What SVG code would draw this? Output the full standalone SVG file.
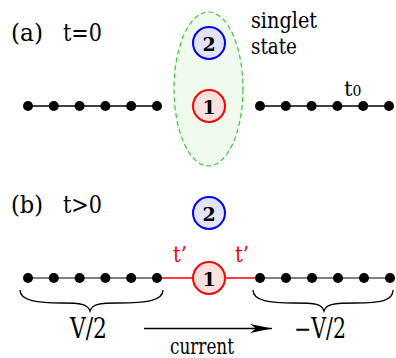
<svg xmlns="http://www.w3.org/2000/svg" width="396" height="358" viewBox="0 0 396 358">
<defs>
<style>
text{font-family:'DejaVu Serif',serif}
.big{font-size:25px}
.mid{font-size:23px}
.num{font-size:19px;font-weight:bold;text-anchor:middle}
.dot{fill:#000}
.chainA{stroke:#000;stroke-width:1.6}
.chainB{stroke:#555;stroke-width:1.6}
.red{stroke:#f00;stroke-width:1.6}
.brace{fill:none;stroke:#000;stroke-width:1.3}
.c2{fill:#e2e2f8;stroke:#00f;stroke-width:2}
.c1{fill:#fde0e0;stroke:#f00;stroke-width:2}
</style>
<marker id="arr" viewBox="0 0 22 10" refX="22" refY="5" markerWidth="22" markerHeight="10" markerUnits="userSpaceOnUse" orient="auto">
<path d="M0,0.5 L22,5 L0,9.5 L6,5 Z" fill="#000"/>
</marker>
</defs>
<rect width="396" height="358" fill="#fff"/>

<g id="labels">
<text class="big" x="11" y="41" textLength="32" lengthAdjust="spacingAndGlyphs">(a)</text>
<text class="big" x="63" y="41" textLength="39" lengthAdjust="spacingAndGlyphs">t=0</text>
<text class="mid" x="251" y="28" textLength="66" lengthAdjust="spacingAndGlyphs">singlet</text>
<text class="mid" x="251" y="54" textLength="46" lengthAdjust="spacingAndGlyphs">state</text>
<text x="344" y="96" font-size="21">t<tspan font-size="14">0</tspan></text>
<text class="big" x="11" y="213" textLength="32" lengthAdjust="spacingAndGlyphs">(b)</text>
<text class="big" x="63" y="213" textLength="39" lengthAdjust="spacingAndGlyphs">t&gt;0</text>
<text x="173" y="262" font-size="23" fill="#f00" textLength="14" lengthAdjust="spacingAndGlyphs">t’</text>
<text x="235" y="262" font-size="23" fill="#f00" textLength="14" lengthAdjust="spacingAndGlyphs">t’</text>
<text x="70" y="338" font-size="27" textLength="37" lengthAdjust="spacingAndGlyphs">V/2</text>
<text x="294" y="338" font-size="27" textLength="52" lengthAdjust="spacingAndGlyphs">−V/2</text>
<text x="170" y="354" font-size="22" textLength="64" lengthAdjust="spacingAndGlyphs">current</text>
</g>

<g id="singlet-ellipse">
<ellipse cx="208.5" cy="89" rx="34.5" ry="77" fill="#f0fbee" stroke="#33cc33" stroke-width="1.2" stroke-dasharray="5,3"/>
</g>

<g id="connectors">
<line class="chainA" x1="28" y1="106" x2="157" y2="106"/>
<line class="chainA" x1="260" y1="106" x2="389" y2="106"/>
<line class="chainB" x1="28" y1="278" x2="157" y2="278"/>
<line class="chainB" x1="260" y1="278" x2="390" y2="278"/>
<line class="red" x1="157" y1="278" x2="193" y2="278"/>
<line class="red" x1="225" y1="278" x2="260" y2="278"/>
<line x1="144" y1="328.5" x2="272" y2="328.5" stroke="#000" stroke-width="1.3" marker-end="url(#arr)"/>
<path class="brace" d="M20,290 C20,301 38,303 62,303 C80,303 88,304 90,311 C92,304 100,303 118,303 C146,303 163,301 163,290"/>
<path class="brace" d="M253,290 C253,301 270,303 294,303 C316,303 322,304 324,311 C326,304 334,303 356,303 C380,303 393,301 393,290"/>
</g>

<g id="chain-a-left">
<circle class="dot" cx="28" cy="106" r="5"/><circle class="dot" cx="53.8" cy="106" r="5"/><circle class="dot" cx="79.6" cy="106" r="5"/><circle class="dot" cx="105.4" cy="106" r="5"/><circle class="dot" cx="131.2" cy="106" r="5"/><circle class="dot" cx="157" cy="106" r="5"/>
</g>
<g id="chain-a-right">
<circle class="dot" cx="260" cy="106" r="5"/><circle class="dot" cx="285.8" cy="106" r="5"/><circle class="dot" cx="311.6" cy="106" r="5"/><circle class="dot" cx="337.4" cy="106" r="5"/><circle class="dot" cx="363.2" cy="106" r="5"/><circle class="dot" cx="389" cy="106" r="5"/>
</g>
<g id="a-node2"><circle class="c2" cx="209" cy="43" r="16"/><text class="num" x="209" y="50.5">2</text></g>
<g id="a-node1"><circle class="c1" cx="209" cy="106" r="16"/><text class="num" x="209" y="113.5">1</text></g>

<g id="chain-b-left">
<circle class="dot" cx="28" cy="278" r="5"/><circle class="dot" cx="53.8" cy="278" r="5"/><circle class="dot" cx="79.6" cy="278" r="5"/><circle class="dot" cx="105.4" cy="278" r="5"/><circle class="dot" cx="131.2" cy="278" r="5"/><circle class="dot" cx="157" cy="278" r="5"/>
</g>
<g id="chain-b-right">
<circle class="dot" cx="260" cy="278" r="5"/><circle class="dot" cx="286" cy="278" r="5"/><circle class="dot" cx="312" cy="278" r="5"/><circle class="dot" cx="338" cy="278" r="5"/><circle class="dot" cx="364" cy="278" r="5"/><circle class="dot" cx="390" cy="278" r="5"/>
</g>
<g id="b-node2"><circle class="c2" cx="209" cy="213" r="16"/><text class="num" x="209" y="220.5">2</text></g>
<g id="b-node1"><circle class="c1" cx="209" cy="278" r="16"/><text class="num" x="209" y="285.5">1</text></g>
</svg>
